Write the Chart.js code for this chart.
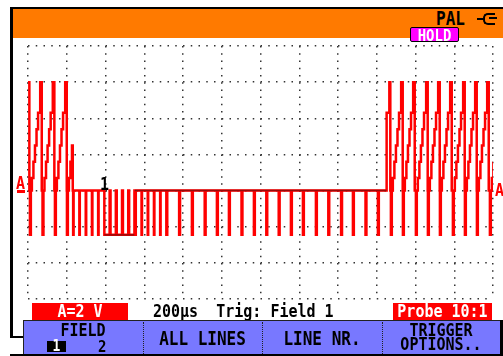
<!DOCTYPE html>
<html>
<head>
<meta charset="utf-8">
<script src="https://cdn.jsdelivr.net/npm/chart.js@4"></script>
<style>
  body { margin: 0; background: #fff; }
  #wrap { position: relative; width: 503px; height: 356px; overflow: hidden; background: #fff; }
  #scope { position: absolute; left: 0; top: 0; }
  .box { position: absolute; }
  .t { position: absolute; font-family: 'DejaVu Sans Mono', monospace; font-weight: bold; white-space: pre; line-height: 1; text-align: center; }
  .tall { transform: scaleY(1.18); transform-origin: 50% 50%; }
</style>
</head>
<body>
<div id="wrap">
  <canvas id="scope" width="503" height="356"></canvas>
  <!-- frame and top bar -->
  <div class="box" style="left:10px;top:7px;width:3px;height:331px;background:#000"></div>
  <div class="box" style="left:10px;top:7px;width:493px;height:2px;background:#000"></div>
  <div class="box" style="left:13px;top:9px;width:490px;height:29px;background:#ff7a00"></div>
  <div class="t tall" style="left:436px;top:11px;font-size:16px;color:#000">PAL</div>
  <div class="box" style="left:477px;top:18px;width:6px;height:2px;background:#000"></div>
  <div class="box" style="left:483px;top:13px;width:10px;height:8px;border:2px solid #000;border-right:none;border-radius:5px 0 0 5px"></div>
  <div class="box" style="left:489px;top:17px;width:8px;height:2px;background:#000"></div>
  <div class="box" style="left:410px;top:27px;width:47px;height:13px;background:#ff00ff;border:1px solid #000;border-radius:2px"></div>
  <div class="t tall" style="left:410px;top:27px;width:49px;font-size:14px;color:#fff;padding-top:1px">HOLD</div>
  <!-- channel markers -->
  <div class="t tall" style="left:16px;top:176px;font-size:15px;color:#f00">A</div>
  <div class="box" style="left:17px;top:190px;width:8px;height:3px;background:#f00"></div>
  <div class="t tall" style="left:495px;top:183px;font-size:15px;color:#f00">A</div>
  <div class="t tall" style="left:100px;top:177px;font-size:15px;color:#000">1</div>
  <!-- status line -->
  <div class="box" style="left:32px;top:303px;width:96px;height:17px;background:#f00"></div>
  <div class="t tall" style="left:32px;top:304px;width:96px;color:#fff;font-size:15px">A=2 V</div>
  <div class="t tall" style="left:153px;top:304px;font-size:15px;color:#000">200µs  Trig: Field 1</div>
  <div class="box" style="left:393px;top:303px;width:99px;height:17px;background:#f00"></div>
  <div class="t tall" style="left:393px;top:304px;width:99px;color:#fff;font-size:15px">Probe 10:1</div>
  <!-- menu -->
  <div class="box" style="left:10px;top:336px;width:14px;height:2px;background:#000"></div>
  <div class="box" style="left:23px;top:320px;width:477px;height:34px;background:#7878ff;border-top:1px solid #222;border-left:1px solid #222"></div>
  <div class="box" style="left:500px;top:320px;width:3px;height:36px;background:#000"></div>
  <div class="box" style="left:10px;top:354px;width:493px;height:2px;background:#000"></div>
  <div class="box" style="left:143px;top:322px;width:0;height:32px;border-left:1px dotted #222"></div>
  <div class="box" style="left:262px;top:322px;width:0;height:32px;border-left:1px dotted #222"></div>
  <div class="box" style="left:382px;top:322px;width:0;height:32px;border-left:1px dotted #222"></div>
  <div class="t tall" style="left:23px;top:323px;width:120px;font-size:15px;color:#000">FIELD</div>
  <div class="box" style="left:47px;top:341px;width:19px;height:11px;background:#000"></div>
  <div class="t tall" style="left:47px;top:339px;width:19px;color:#fff;font-size:13px">1</div>
  <div class="t tall" style="left:98px;top:339px;font-size:14px;color:#000">2</div>
  <div class="t tall" style="left:143px;top:331px;width:119px;font-size:16px;color:#000">ALL LINES</div>
  <div class="t tall" style="left:262px;top:331px;width:120px;font-size:16px;color:#000">LINE NR.</div>
  <div class="t tall" style="left:382px;top:323px;width:118px;font-size:15px;color:#000">TRIGGER</div>
  <div class="t tall" style="left:382px;top:337px;width:118px;font-size:15px;color:#000">OPTIONS..</div>
</div>
<script>
// Scope trace: time in µs (200 µs/div), level in V (2 V/div)
const syncLevel = -2.45;
// running in from the left edge (top of the staircase, then blanking)
const leadTimes = [0, 7];
const leadLevels = [6.0, 0];
// start of the sync pulse of each staircase line
const stairSyncs = [10, 75, 139, 1873, 1935, 2002, 2064, 2126, 2193, 2255, 2317, 2384];
// staircase inside one line: offset after sync start and level
const stairOffsets = [0, 4.7, 10, 18, 26, 34, 42, 53, 61];
const stairLevels = [syncLevel, 0, 0.7, 1.6, 2.5, 3.4, 4.3, 6.0, 0];
// half line cut by the end of the field
const halfSync = 201;
const halfEnd = 231;
// equalizing pulses (before and after the vertical sync)
const eqPulses = [233, 265, 298, 330, 362, 554, 586, 618, 650, 682];
// broad pulses of the vertical sync
const broadPulses = [394, 426, 458, 490, 522];
// blank lines of the vertical interval
const blankSyncs = [714, 780, 846, 912, 975, 1037, 1102, 1166, 1230, 1294, 1357, 1419, 1486, 1550, 1616, 1677, 1742, 1806];
// last blank line, jumps up just before the first staircase line
const partTimes = [1851, 1865, 1870];
const partLevels = [4.3, 6.0, 0];
// darker, denser trace along the blanking level and the broad pulse bottoms
const darkTimes = [[552, 1850], [394, 549]];
const darkLevels = [0, syncLevel];

let trace = [];
let add = (t, v) => trace.push({x: t, y: v});
leadTimes.forEach((t, i) => add(t, leadLevels[i]));
stairSyncs.forEach((s) => {
	stairOffsets.forEach((o, i) => add(s + o, stairLevels[i]));
});
stairOffsets.slice(0, 5).forEach((o, i) => add(halfSync + o, stairLevels[i]));
add(halfEnd, 0);
eqPulses.forEach((t) => { add(t, syncLevel); add(t + 2.35, 0); });
broadPulses.forEach((t) => { add(t, syncLevel); add(t + 27.3, 0); });
blankSyncs.forEach((t) => { add(t, syncLevel); add(t + 4.7, 0); });
partTimes.forEach((t, i) => add(t, partLevels[i]));
trace.sort((a, b) => a.x - b.x);

//Dark parts are drawn as separate short datasets on top of the red trace
let darkSets = darkTimes.map((range, i) => ({
	data: range.map((t) => ({x: t, y: darkLevels[i]})),
	borderColor: 'rgb(150,10,10)',
	borderWidth: 1.5,
	pointRadius: 0,
	fill: false,
	order: 0
}));

const ctx = document.getElementById("scope").getContext("2d");
let myChart = new Chart(ctx, {
	type: 'line',
	data: {
		datasets: [{
			data: trace,
			borderColor: 'rgb(255,0,0)',
			borderWidth: 2.5,
			pointRadius: 0,
			stepped: true,
			fill: false,
			order: 1
		}].concat(darkSets)
	},
	options: {
		responsive: false,
		animation: false,
		layout: { padding: { left: 28, top: 46, right: 10, bottom: 57 } },
		plugins: {
			legend: { display: false },
			tooltip: { enabled: false }
		},
		scales: {
			x: {
				type: 'linear', min: 0, max: 2400,
				ticks: { display: false, stepSize: 200 },
				grid: { color: '#333', lineWidth: 1.5, drawTicks: false },
				border: { display: false, dash: [1.5, 5.73] }
			},
			y: {
				min: -6, max: 8,
				ticks: { display: false, stepSize: 2 },
				grid: { color: '#333', lineWidth: 1.5, drawTicks: false },
				border: { display: false, dash: [1.5, 6.25] }
			}
		}
	}
});
</script>
</body>
</html>
